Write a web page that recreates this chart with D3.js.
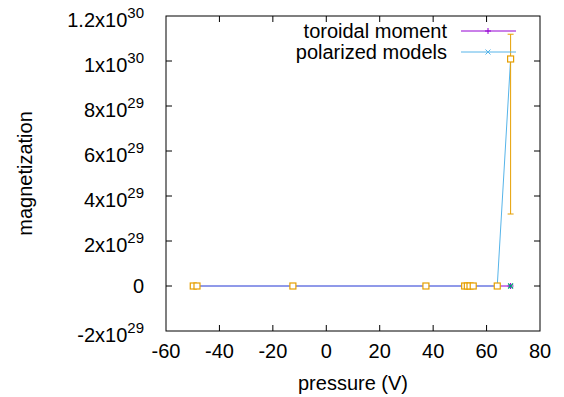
<!DOCTYPE html>
<html>
<head>
<meta charset="utf-8">
<script src="https://cdn.jsdelivr.net/npm/d3@7"></script>
<style>
  body { margin: 0; background: #fff; }
  text { font-family: "Liberation Sans", Arial, sans-serif; fill: #000; }
</style>
</head>
<body>
<div id="chart"></div>
<script>
// values
var pressure = [-49.8, -48.4, -12.5, 37.3, 51.8, 52.8, 53.8, 55.0, 64.0, 69.0];
var toroidal = [0, 0, 0, 0, 0, 0, 0, 0, 0, 0];
var polarized = [0, 0, 0, 0, 0, 0, 0, 0, 0, 1.009e30];
var errLow  = [0, 0, 0, 0, 0, 0, 0, 0, 0, 3.2e29];
var errHigh = [0, 0, 0, 0, 0, 0, 0, 0, 0, 1.119e30];
var xTicks = [-60, -40, -20, 0, 20, 40, 60, 80];
var yTicks = [-2e29, 0, 2e29, 4e29, 6e29, 8e29, 1e30, 1.2e30];
var seriesNames = ["toroidal moment", "polarized models"];

var W = 564, H = 397;
var margin = {top: 16, right: 24, bottom: 66, left: 166};
var width = W - margin.left - margin.right;
var height = H - margin.top - margin.bottom;

var purple = "#9400d3", blue = "#56b4e9", green = "#009e73", orange = "#e69f00";
var fs = "20px";

var svg = d3.select("#chart").append("svg")
  .attr("width", W)
  .attr("height", H);
var g = svg.append("g")
  .attr("transform", "translate(" + margin.left + "," + margin.top + ")");

var x = d3.scaleLinear().domain([-60, 80]).range([0, width]);
var y = d3.scaleLinear().domain([-2e29, 1.2e30]).range([height, 0]);

// ticks, drawn inward on all four sides
var tickLen = 6;
xTicks.forEach(function(t) {
  if (t == -60 || t == 80) return;
  g.append("line").attr("x1", x(t)).attr("x2", x(t)).attr("y1", height).attr("y2", height - tickLen)
    .attr("stroke", "#000");
  g.append("line").attr("x1", x(t)).attr("x2", x(t)).attr("y1", 0).attr("y2", tickLen)
    .attr("stroke", "#000");
});
yTicks.forEach(function(t) {
  if (t == -2e29 || t == 1.2e30) return;
  g.append("line").attr("x1", 0).attr("x2", tickLen).attr("y1", y(t)).attr("y2", y(t))
    .attr("stroke", "#000");
  g.append("line").attr("x1", width).attr("x2", width - tickLen).attr("y1", y(t)).attr("y2", y(t))
    .attr("stroke", "#000");
});

// tick labels
g.selectAll(".xlab").data(xTicks).enter().append("text")
  .attr("x", function(d) { return x(d); })
  .attr("y", height + 20)
  .attr("dy", "0.35em")
  .attr("text-anchor", "middle")
  .style("font-size", fs)
  .text(function(d) { return d; });

yTicks.forEach(function(t) {
  var txt = g.append("text")
    .attr("x", -22)
    .attr("y", y(t))
    .attr("text-anchor", "end")
    .style("font-size", fs);
  if (t == 0) {
    txt.attr("dy", "0.35em").text("0");
    return;
  }
  var ex = Math.floor(Math.log10(Math.abs(t)));
  var mant = +(t / Math.pow(10, ex)).toFixed(2);
  txt.attr("dy", "0.55em");
  txt.append("tspan").text(mant + "x10");
  txt.append("tspan").attr("dy", -9).style("font-size", "15px").text(ex);
});

// axis titles
svg.append("text")
  .attr("transform", "translate(25," + (margin.top + height / 2) + ") rotate(-90)")
  .attr("text-anchor", "middle")
  .attr("dy", "0.35em")
  .style("font-size", fs)
  .text("magnetization");
svg.append("text")
  .attr("x", margin.left + width / 2)
  .attr("y", 383)
  .attr("dy", "0.35em")
  .attr("text-anchor", "middle")
  .style("font-size", fs)
  .text("pressure (V)");

// data
var plot = g.append("g");
var lineT = d3.line().x(function(d, i) { return x(pressure[i]); }).y(function(d) { return y(d); });

function plus(sel, cx, cy, col) {
  sel.append("path").attr("d", "M" + (cx - 3) + "," + cy + "H" + (cx + 3) + "M" + cx + "," + (cy - 3) + "V" + (cy + 3))
    .attr("stroke", col).attr("stroke-width", 1);
}
function cross(sel, cx, cy, col, sw) {
  sel.append("path").attr("d", "M" + (cx - 2.5) + "," + (cy - 2.5) + "L" + (cx + 2.5) + "," + (cy + 2.5) +
      "M" + (cx - 2.5) + "," + (cy + 2.5) + "L" + (cx + 2.5) + "," + (cy - 2.5))
    .attr("stroke", col).attr("stroke-width", sw || 1);
}

plot.append("path").datum(toroidal).attr("d", lineT)
  .attr("fill", "none").attr("stroke", purple).attr("stroke-width", 1);
toroidal.forEach(function(v, i) { plus(plot, x(pressure[i]), y(v), purple); });

plot.append("path").datum(polarized).attr("d", lineT)
  .attr("fill", "none").attr("stroke", blue).attr("stroke-width", 1);
polarized.forEach(function(v, i) { cross(plot, x(pressure[i]), y(v), blue); });

// green points (toroidal values)
toroidal.forEach(function(v, i) { cross(plot, x(pressure[i]), y(v), green, 1.2); });

// orange squares with error bars
polarized.forEach(function(v, i) {
  var cx = x(pressure[i]), cy = y(v);
  if (errHigh[i] != errLow[i]) {
    var yl = y(errLow[i]), yh = y(errHigh[i]);
    plot.append("line").attr("x1", cx).attr("x2", cx).attr("y1", yl).attr("y2", yh)
      .attr("stroke", orange).attr("stroke-width", 1);
    [yl, yh].forEach(function(yy) {
      plot.append("line").attr("x1", cx - 3).attr("x2", cx + 3).attr("y1", yy).attr("y2", yy)
        .attr("stroke", orange).attr("stroke-width", 1);
    });
  }
  plot.append("rect").attr("x", cx - 3).attr("y", cy - 3).attr("width", 6).attr("height", 6)
    .attr("fill", "#fff").attr("stroke", orange).attr("stroke-width", 1.2);
});

// frame
g.append("rect").attr("width", width).attr("height", height)
  .attr("fill", "none").attr("stroke", "#000").attr("stroke-width", 1);

// legend
var legend = svg.append("g");
var legColors = [purple, blue];
seriesNames.forEach(function(name, i) {
  var ly = 31 + i * 21;
  legend.append("text").attr("x", 447).attr("y", ly).attr("dy", "0.35em")
    .attr("text-anchor", "end").style("font-size", fs).text(name);
  legend.append("line").attr("x1", 461).attr("x2", 516).attr("y1", ly).attr("y2", ly)
    .attr("stroke", legColors[i]).attr("stroke-width", 1);
  if (i == 0) plus(legend, 488, ly, purple);
  else cross(legend, 488, ly, blue);
});
</script>
</body>
</html>
